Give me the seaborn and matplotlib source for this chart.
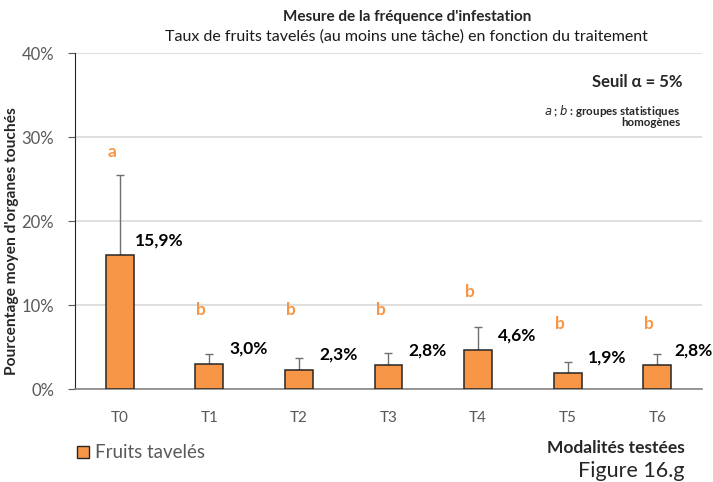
import pandas as pd
import seaborn as sns
import matplotlib.pyplot as plt

# data
modalites = ['T0', 'T1', 'T2', 'T3', 'T4', 'T5', 'T6']
taux = [15.9, 3.0, 2.3, 2.8, 4.6, 1.9, 2.8]
erreurs = [9.6, 1.2, 1.35, 1.5, 2.8, 1.35, 1.35]
etiquettes = ['15,9%', '3,0%', '2,3%', '2,8%', '4,6%', '1,9%', '2,8%']
groupes = ['a', 'b', 'b', 'b', 'b', 'b', 'b']
groupes_y = [28.2, 9.4, 9.4, 9.4, 11.5, 7.7, 7.7]
yticks = [0, 10, 20, 30, 40]

orange = '#F79646'
W, H = 713, 482

df = pd.DataFrame({'modalite': modalites, 'taux': taux})

sns.set_style('white')
plt.rcParams['font.family'] = ['Lato', 'DejaVu Sans']

fig = plt.figure(figsize=(W / 100, H / 100), dpi=100)
ax = fig.add_axes([75 / W, 1 - 389 / H, 627 / W, 336 / H])

sns.barplot(data=df, x='modalite', y='taux', color=orange, width=0.31,
            edgecolor='#262626', linewidth=1.1, saturation=1, ax=ax, zorder=3)
ax.errorbar(range(len(taux)), taux, yerr=[[0] * len(taux), erreurs], fmt='none',
            ecolor='#6f6f6f', elinewidth=1, capsize=3, capthick=1, zorder=2)

for i, (v, lab) in enumerate(zip(taux, etiquettes)):
    dx = 0.40 if i == len(taux) - 1 else 0.44
    ax.text(i + dx, v + 1.8, lab, ha='center', va='center',
            fontsize=12.5, fontweight='bold', color='black')
for i, (g, gy) in enumerate(zip(groupes, groupes_y)):
    ax.text(i - 0.09, gy, g, ha='center', va='center',
            fontsize=12.5, fontweight='bold', color=orange)

ax.set_xlim(-0.5, len(modalites) - 0.5)
ax.set_ylim(0, 40)
ax.set_yticks(yticks)
ax.set_yticklabels([f'{t}%' for t in yticks], color='#595959', fontsize=12)
ax.yaxis.grid(True, color='#d9d9d9', linewidth=1.2, zorder=0)
ax.set_axisbelow(True)
ax.tick_params(axis='x', which='major', length=0, pad=16, labelsize=11, labelcolor='#595959')
ax.set_xticks([i - 0.5 for i in range(len(modalites) + 1)], minor=True)
ax.tick_params(axis='x', which='minor', length=5, color='#868686', width=1, direction='out')
ax.tick_params(axis='y', length=5, color='#595959', direction='out', left=True, pad=10)
ax.set_xlabel('')
ax.set_ylabel("Pourcentage moyen d'organes touchés", fontsize=11.2, fontweight='bold')
ax.yaxis.set_label_coords(-56 / 627, 0.44)
sns.despine(ax=ax, top=True, right=True)
ax.spines['left'].set_color('#262626')
ax.spines['bottom'].set_color('#868686')
ax.spines['bottom'].set_linewidth(1.2)

def fx(px):
    return px / W

def fy(py):
    return 1 - py / H

fig.text(fx(407), fy(17), "Mesure de la fréquence d'infestation", ha='center', va='center',
         fontsize=11, fontweight='bold')
fig.text(fx(406), fy(37), 'Taux de fruits tavelés (au moins une tâche) en fonction du traitement',
         ha='center', va='center', fontsize=11.5, color='#1a1a1a')
fig.text(fx(683), fy(82), 'Seuil α = 5%', ha='right', va='center', fontsize=12, fontweight='bold')
fig.text(fx(680), fy(111), r'$\mathbf{\it{a}}$ ; $\mathbf{\it{b}}$ : groupes statistiques',
         ha='right', va='center', fontsize=8.3, fontweight='bold')
fig.text(fx(680), fy(123), 'homogènes', ha='right', va='center', fontsize=8.3, fontweight='bold')

# legend
fig.patches.append(plt.Rectangle((fx(77), fy(458)), 12 / W, 12 / H, transform=fig.transFigure,
                                 facecolor=orange, edgecolor='#262626', linewidth=1))
fig.text(fx(95), fy(452), 'Fruits tavelés', ha='left', va='center', fontsize=13.5, color='#595959')

fig.text(fx(685), fy(448), 'Modalités testées', ha='right', va='center', fontsize=12.5,
         fontweight='bold')
fig.text(fx(685), fy(471), 'Figure 16.g', ha='right', va='center', fontsize=15.5, color='#262626')

fig.savefig('out.png', dpi=100)
